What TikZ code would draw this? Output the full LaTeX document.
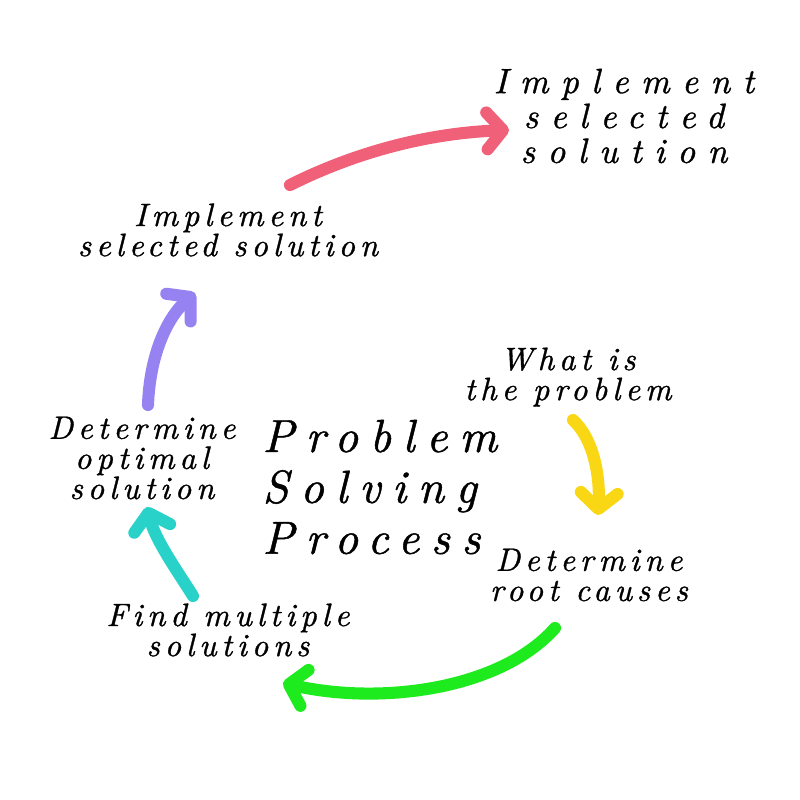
\documentclass[tikz,border=0pt]{standalone}
\definecolor{arrowyellow}{RGB}{250, 215, 20}
\definecolor{arrowgreen}{RGB}{30, 235, 30}
\definecolor{arrowcyan}{RGB}{40, 210, 200}
\definecolor{arrowviolet}{RGB}{150, 130, 240}
\definecolor{arrowpink}{RGB}{240, 96, 120}
\usepackage{fontspec}
\newfontfamily\handfont{lmroman10-italic.otf}[LetterSpace=15, FakeBold=1]
\newfontfamily\bighandfont{lmroman10-italic.otf}[LetterSpace=25, FakeBold=1]
\newfontfamily\goalfont{lmroman10-italic.otf}[LetterSpace=35, FakeBold=1]
\usepackage{tikz}
\usetikzlibrary{arrows.meta, calc}

\begin{document}
\begin{tikzpicture}[x=0.0125cm, y=-0.0125cm,
  steptext/.style={align=center, inner sep=0pt, font=\handfont\fontsize{11.5}{10.7}\selectfont},
  flow/.style={line width=4.3pt, line cap=round, -{Straight Barb[length=2mm, width=4.6mm, line cap=round, line join=round]}}]
  \useasboundingbox (0,0) rectangle (800,800);
  % labels round the cycle
  \node[steptext, font=\goalfont\fontsize{12.5}{12.4}\selectfont] (goal) at (624, 116) {Implement\\selected\\solution};
  \node[steptext] (implement) at (228, 230) {Implement\\selected solution};
  \node[steptext] (what) at (568, 377) {What is\\the problem};
  \node[steptext] (optimal) at (142, 458) {Determine\\optimal\\solution};
  \node[steptext] (root) at (589, 575) {Determine\\root causes};
  \node[steptext] (find) at (228, 630) {Find multiple\\solutions};
  \node[align=left, anchor=west, inner sep=0pt, font=\bighandfont\fontsize{16.5}{18.1}\selectfont] (title) at (262, 487) {Problem\\Solving\\Process};
  % curved arrows
  \draw[flow, arrowyellow] ($(what)+(5,43)$) .. controls ($(what)+(27,63)$) and ($(root)+(11,-95)$) .. ($(root)+(9,-60)$);
  \draw[flow, arrowgreen] ($(root)+(-34,53)$) .. controls ($(root)+(-89,115)$) and ($(find)+(152,75)$) .. ($(find)+(55,53)$);
  \draw[flow, arrowcyan] ($(find)+(-35,-34)$) .. controls ($(find)+(-48,-55)$) and ($(optimal)+(13,82)$) .. ($(optimal)+(5,49)$);
  \draw[flow, arrowviolet] ($(optimal)+(6,-53)$) .. controls ($(optimal)+(8,-108)$) and ($(implement)+(-58,85)$) .. ($(implement)+(-33,63)$);
  \draw[flow, arrowpink] ($(implement)+(62,-45)$) .. controls ($(implement)+(132,-80)$) and ($(goal)+(-192,17)$) .. ($(goal)+(-115,14)$);
\end{tikzpicture}
\end{document}
